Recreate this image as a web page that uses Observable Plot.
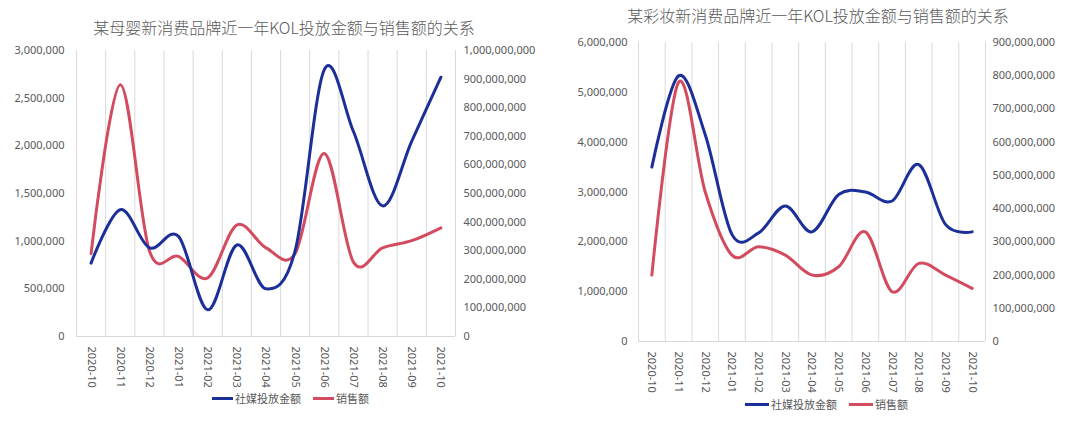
<!DOCTYPE html>
<html>
<head>
<meta charset="utf-8">
<script src="https://cdn.jsdelivr.net/npm/d3@7"></script>
<script src="https://cdn.jsdelivr.net/npm/@observablehq/plot@0.6"></script>
<style>
  html, body { margin: 0; padding: 0; background: #fff; }
  #page { position: relative; width: 1080px; height: 423px; overflow: hidden; font-family: "Noto Sans CJK SC", "Noto Sans", sans-serif; }
  .title { position: absolute; width: 600px; text-align: center; font-size: 16px; font-weight: 300; color: #595959; white-space: nowrap; line-height: 22px; }
  .chart { position: absolute; }
  .legend { position: absolute; font-size: 11px; color: #595959; display: flex; align-items: center; white-space: nowrap; line-height: 16px; }
  .legend .sw { display: inline-block; height: 3px; margin-right: 2px; }
  .legend .item { display: flex; align-items: center; margin-right: 12px; }
</style>
</head>
<body>
<div id="page"></div>
<script>
// ---------- data ----------
const months = ["2020-10","2020-11","2020-12","2021-01","2021-02","2021-03","2021-04","2021-05","2021-06","2021-07","2021-08","2021-09","2021-10"];

const seriesNames = ["社媒投放金额", "销售额"];

// Chart 1: 某母婴新消费品牌
const title1 = "某母婴新消费品牌近一年KOL投放金额与销售额的关系";
const spend1 = [770000, 1330000, 930000, 1050000, 280000, 960000, 500000, 900000, 2800000, 2150000, 1370000, 2050000, 2720000];
const sales1 = [290000000, 880000000, 300000000, 280000000, 205000000, 390000000, 310000000, 290000000, 640000000, 260000000, 310000000, 335000000, 380000000];
const leftTicks1 = [0, 500000, 1000000, 1500000, 2000000, 2500000, 3000000];
const rightTicks1 = [0, 100000000, 200000000, 300000000, 400000000, 500000000, 600000000, 700000000, 800000000, 900000000, 1000000000];

// Chart 2: 某彩妆新消费品牌
const title2 = "某彩妆新消费品牌近一年KOL投放金额与销售额的关系";
const spend2 = [3500000, 5330000, 4150000, 2150000, 2180000, 2720000, 2200000, 2950000, 3000000, 2820000, 3550000, 2350000, 2200000];
const sales2 = [200000000, 780000000, 450000000, 260000000, 285000000, 260000000, 200000000, 225000000, 330000000, 150000000, 235000000, 200000000, 160000000];
const leftTicks2 = [0, 1000000, 2000000, 3000000, 4000000, 5000000, 6000000];
const rightTicks2 = [0, 100000000, 200000000, 300000000, 400000000, 500000000, 600000000, 700000000, 800000000, 900000000];

const BLUE = "#1c2f98";
const RED = "#d34b5e";
const GRID = "#d9d9d9";
const TEXT = "#595959";
const fmt = d3.format(",");

function makeChart(spend, sales, leftTicks, rightTicks, opts) {
  const leftMax = leftTicks[leftTicks.length - 1];
  const rightMax = rightTicks[rightTicks.length - 1];
  const k = leftMax / rightMax; // map right-axis values to left scale
  const data = months.map((m, i) => ({i, m, spend: spend[i], sales: sales[i]}));
  const boundaries = d3.range(months.length + 1).map(i => i - 0.5);
  return Plot.plot({
    width: opts.width,
    height: opts.height,
    marginLeft: opts.ml,
    marginRight: opts.mr,
    marginTop: opts.mt,
    marginBottom: opts.mb,
    style: {fontFamily: "'Noto Sans', 'Noto Sans CJK SC', sans-serif", fontSize: "11px", color: TEXT, background: "transparent"},
    x: {type: "linear", domain: [-0.5, months.length - 0.5], axis: null},
    y: {domain: [0, leftMax], axis: null},
    marks: [
      Plot.ruleX(boundaries, {stroke: GRID, strokeWidth: 1}),
      Plot.ruleY([0], {stroke: GRID, strokeWidth: 1}),
      Plot.axisY({ticks: leftTicks, tickFormat: fmt, tickSize: 0, tickPadding: opts.lp, anchor: "left", fill: TEXT, label: null}),
      Plot.axisY({ticks: rightTicks.map(v => v * k), tickFormat: d => fmt(Math.round(d / k / 1e6) * 1e6), tickSize: 0, tickPadding: opts.rp, anchor: "right", fill: TEXT, label: null}),
      Plot.axisX({ticks: d3.range(months.length), tickFormat: i => months[i], tickRotate: 90, tickSize: 0, tickPadding: opts.xp, anchor: "bottom", fill: TEXT, label: null}),
      Plot.line(data, {x: "i", y: d => d.sales * k, stroke: RED, strokeWidth: 3, curve: "cardinal", tension: 0}),
      Plot.line(data, {x: "i", y: "spend", stroke: BLUE, strokeWidth: 3, curve: "cardinal", tension: 0})
    ]
  });
}

const page = document.getElementById("page");

function addTitle(text, cx, cy) {
  const t = document.createElement("div");
  t.className = "title";
  t.textContent = text;
  t.style.left = (cx - 300) + "px";
  t.style.top = (cy - 11) + "px";
  page.appendChild(t);
}
function addChart(svg, left, top) {
  const d = document.createElement("div");
  d.className = "chart";
  d.style.left = left + "px";
  d.style.top = top + "px";
  d.appendChild(svg);
  page.appendChild(d);
}
function addLegend(left, cy, swW) {
  const lg = document.createElement("div");
  lg.className = "legend";
  lg.style.left = left + "px";
  lg.style.top = (cy - 8) + "px";
  [[seriesNames[0], BLUE], [seriesNames[1], RED]].forEach(([name, c]) => {
    const it = document.createElement("span");
    it.className = "item";
    const sw = document.createElement("span");
    sw.className = "sw";
    sw.style.width = swW + "px";
    sw.style.background = c;
    const tx = document.createElement("span");
    tx.textContent = name;
    it.appendChild(sw); it.appendChild(tx);
    lg.appendChild(it);
  });
  page.appendChild(lg);
}

// left chart
addTitle(title1, 284, 27);
addChart(makeChart(spend1, sales1, leftTicks1, rightTicks1, {width: 540, height: 360, ml: 76, mr: 85, mt: 10, mb: 64, lp: 12, rp: 8, xp: 10}), 0, 40);
addLegend(212, 398, 21);

// right chart
addTitle(title2, 818, 15);
addChart(makeChart(spend2, sales2, leftTicks2, rightTicks2, {width: 540, height: 370, ml: 98, mr: 95, mt: 12, mb: 59, lp: 11, rp: 7, xp: 10}), 540, 30);
addLegend(745, 404, 24);
</script>
</body>
</html>
